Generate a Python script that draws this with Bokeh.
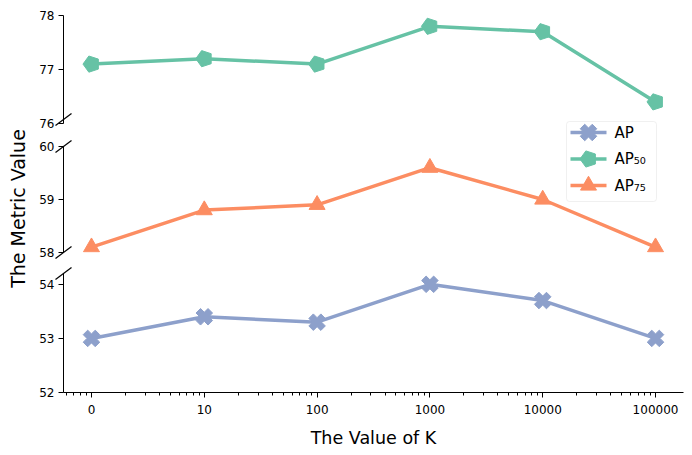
import math
from bokeh.plotting import figure
from bokeh.models import (Range1d, FixedTicker, Arrow, Label, GridBox, BoxAnnotation)
from bokeh.core.properties import value
from bokeh.embed import file_html
from bokeh.resources import INLINE

# ---- data ----
k_labels = ["0", "10", "100", "1000", "10000", "100000"]
k_pos = [1, 10, 100, 1000, 10000, 100000]   # "0" drawn at the first log position
ap = [53.0, 53.4, 53.3, 54.0, 53.7, 53.0]
ap50 = [77.1, 77.2, 77.1, 77.8, 77.7, 76.4]
ap75 = [58.1, 58.8, 58.9, 59.6, 59.0, 58.1]

series_names = ["AP", "AP₅₀", "AP₇₅"]
series_colors = ["#8da0cb", "#66c2a5", "#fc8d62"]
series_kinds = ["x", "pent", "tri"]

top_ticks = [76, 77, 78]
mid_ticks = [58, 59, 60]
bot_ticks = [52, 53, 54]

FONT = "DejaVu Sans"

W, F_LEFT, F_W = 684, 63, 620
xr = Range1d(0.565, 177000)
minor = [m * 10 ** e for e in range(-1, 6) for m in range(2, 10)]


def panel(frame_h, b_top, b_bot, y_lo, y_hi, yticks, show_x, height=None):
    kw = dict(height=height) if height else dict(frame_height=frame_h)
    p = figure(width=W, frame_width=F_W, x_axis_type="log", x_range=xr,
               y_range=Range1d(y_lo, y_hi), output_backend="svg", toolbar_location=None,
               min_border_left=F_LEFT, min_border_right=1, min_border_top=b_top,
               min_border_bottom=b_bot, **kw)
    p.outline_line_color = None
    p.grid.visible = False
    ya = p.yaxis[0]
    ya.ticker = FixedTicker(ticks=yticks)
    ya.minor_tick_line_color = None
    ya.major_tick_in = 0
    ya.major_tick_out = 5
    ya.major_label_standoff = 4
    ya.major_label_text_font = FONT
    ya.major_label_text_font_size = "12px"
    ya.major_label_text_color = "black"
    ya.axis_line_color = "black"
    xa = p.xaxis[0]
    if show_x:
        xa.ticker = FixedTicker(ticks=k_pos, minor_ticks=minor)
        xa.major_label_overrides = dict(zip(k_pos, k_labels))
        xa.major_tick_in = 0
        xa.major_tick_out = 5
        xa.minor_tick_in = 0
        xa.minor_tick_out = 3
        xa.major_label_standoff = 7
        xa.major_label_text_font = FONT
        xa.major_label_text_font_size = "12px"
        xa.major_label_text_color = "black"
        xa.axis_label = "The Value of K"
        xa.axis_label_text_font = FONT
        xa.axis_label_text_font_size = "17.5px"
        xa.axis_label_text_font_style = "normal"
        xa.axis_label_standoff = 11
        xa.axis_label_text_color = "black"
    else:
        xa.visible = False
    return p


def markers(p, xs, ys, color, kind):
    if kind == "x":
        return p.scatter(xs, ys, marker="plus", angle=math.pi / 4, size=17,
                         fill_color=color, line_color=color)
    if kind == "pent":
        try:
            return p.ngon(xs, ys, radius=8.5, radius_units="screen", n=5,
                          angle=math.pi / 2, fill_color=color, line_color=color)
        except Exception:
            return p.scatter(xs, ys, marker="hex", size=15, fill_color=color,
                             line_color=color)
    return p.scatter(xs, ys, marker="triangle", size=16, fill_color=color, line_color=color)


def series(p, ys, i):
    p.line(k_pos, ys, line_color=series_colors[i], line_width=3.5)
    markers(p, k_pos, ys, series_colors[i], series_kinds[i])


# panels: canvas rows 0-134, 134-263, 263-450 ; frames 15-123, 146-252, 273-392
top = panel(108, 15, 11, 76, 78, top_ticks, False)
mid = panel(106, 12, 11, 58, 60, mid_ticks, False)
bot = panel(None, 10, 58, 52, 54.2, bot_ticks, True, height=187)

series(bot, ap, 0)
series(top, ap50, 1)
series(mid, ap75, 2)

# ---- transparent overlay (pixel space) for the legend, the y title and the break marks ----
H = 134 + 129 + 187
ov = figure(width=W, height=H, x_range=Range1d(0, W), y_range=Range1d(0, H),
            output_backend="svg", toolbar_location=None, min_border=0)
try:
    ov.frame_align = False
except Exception:
    pass
ov.axis.visible = False
ov.grid.visible = False
ov.outline_line_color = None
ov.background_fill_color = None
ov.border_fill_color = None

# legend: box 566-656 x 121-201 (pixel rows from the top)
ov.add_layout(BoxAnnotation(left=566, right=656, bottom=H - 201, top=H - 121,
                            fill_color="white", fill_alpha=0.8, line_color="#cccccc",
                            line_width=1, border_radius=3, level="underlay"))
for i, name in enumerate(series_names):
    yc = H - (132 + 26.5 * i)
    ov.line([570, 606], [yc, yc], line_color=series_colors[i], line_width=3.5)
    markers(ov, [588], [yc], series_colors[i], series_kinds[i])
    ov.text([614], [yc], text=[name], text_baseline="middle", text_align="left",
            text_font=value(FONT), text_font_size="15px", text_color="black")

ov.add_layout(Label(x=17, y=H - 208, x_units="screen", y_units="screen",
                    text="The Metric Value", angle=math.pi / 2, text_align="center",
                    text_baseline="middle", text_font=FONT, text_font_size="19px",
                    text_color="black"))

# break marks at the spine ends (pixel rows from the top)
for row_px in (119, 146, 252, 273):
    y0 = H - row_px
    ov.add_layout(Arrow(end=None, x_start=F_LEFT - 8, y_start=y0 - 6,
                        x_end=F_LEFT + 8, y_end=y0 + 6,
                        start_units="screen", end_units="screen",
                        line_color="black", line_width=1.2))

layout = GridBox(children=[(top, 0, 0), (mid, 1, 0), (bot, 2, 0), (ov, 0, 0, 3, 1)],
                 spacing=0)
open("out.html", "w").write(file_html(layout, INLINE))
